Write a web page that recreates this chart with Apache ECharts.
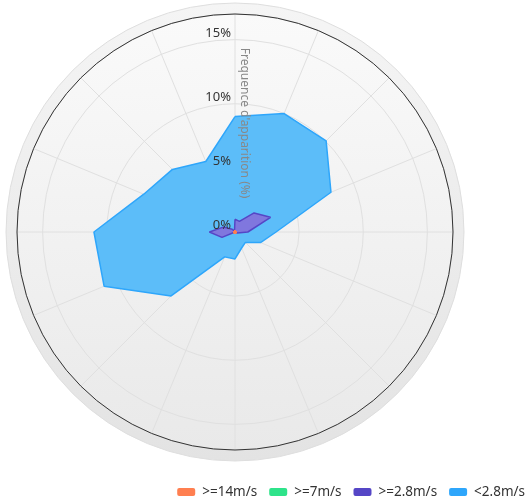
<!DOCTYPE html>
<html>
<head>
<meta charset="utf-8">
<script src="https://cdn.jsdelivr.net/npm/echarts@6/dist/echarts.min.js"></script>
<style>
  html, body { margin: 0; padding: 0; background: #fff; }
  #chart { width: 526px; height: 501px; }
</style>
</head>
<body>
<div id="chart"></div>
<script>
// 16 wind directions, clockwise from north
const directions = ['N', 'NNE', 'NE', 'ENE', 'E', 'ESE', 'SE', 'SSE', 'S', 'SSW', 'SW', 'WSW', 'W', 'WNW', 'NW', 'NNW']
const radiusTicks = [0, 5, 10, 15]

// frequency (%) per direction for each speed class (stacked)
const over14 = [0, 0, 0, 0, 0, 0, 0, 0, 0, 0, 0, 0, 0, 0, 0, 0]
const over7 = [0, 0, 0, 0, 0, 0, 0, 0, 0, 0, 0, 0, 0, 0, 0, 0]
const over28 = [1.0, 0.9, 2.1, 3.0, 1.0, 0.2, 0.1, 0, 0, 0, 0, 1.1, 2.0, 1.0, 0.3, 0.1]
const under28 = [8.0, 9.1, 7.95, 5.1, 2.2, 1.95, 1.05, 1.35, 2.1, 2.1, 7.05, 9.95, 9.0, 6.7, 6.6, 5.85]

const cx = 235
const cy = 232
const R = 218

const step = 360 / directions.length
function toPolar(values) {
  const pts = values.map((v, i) => [v, i * step])
  pts.push([values[0], 360]) // close the ring
  return pts
}

const series = [
  { name: '>=14m/s', values: over14, line: '#ff7f50', fill: '#ff7f50', dot: true },
  { name: '>=7m/s', values: over7, line: '#2ee38a', fill: '#2ee38a' },
  { name: '>=2.8m/s', values: over28, line: '#5546c6', fill: '#8077de' },
  { name: '<2.8m/s', values: under28, line: '#2ea6fb', fill: '#5cbdf9' }
].map(s => ({
  name: s.name,
  type: 'line',
  coordinateSystem: 'polar',
  polarIndex: 0,
  stack: 'wind',
  symbol: s.dot ? 'circle' : 'none',
  symbolSize: 3,
  data: toPolar(s.values),
  itemStyle: { color: s.line },
  lineStyle: { color: s.line, width: 1.5 },
  areaStyle: { color: s.fill, opacity: 1 }
}))

const chart = echarts.init(document.getElementById('chart'))
chart.setOption({
  animation: false,
  textStyle: { fontFamily: 'Noto Sans' },
  graphic: [
    {
      type: 'circle', z: -10, silent: true,
      shape: { cx: cx, cy: cy, r: R + 11 },
      style: {
        fill: { type: 'linear', x: 0, y: 0, x2: 0, y2: 1,
          colorStops: [{ offset: 0, color: '#f5f5f5' }, { offset: 1, color: '#e3e3e3' }] },
        stroke: '#dedede', lineWidth: 1
      }
    },
    {
      type: 'circle', z: -9, silent: true,
      shape: { cx: cx, cy: cy, r: R },
      style: {
        fill: { type: 'linear', x: 0, y: 0, x2: 0, y2: 1,
          colorStops: [{ offset: 0, color: '#fafafa' }, { offset: 1, color: '#e9e9e9' }] }
      }
    }
  ],
  legend: {
    right: 1,
    bottom: 2,
    padding: 0,
    icon: 'roundRect',
    itemWidth: 18,
    itemHeight: 8,
    itemGap: 12,
    textStyle: { fontSize: 13.5, color: '#333', padding: [0, 0, 0, 2] },
    data: series.map(s => s.name)
  },
  polar: [
    { center: [cx, cy], radius: R },
    { center: [cx, cy], radius: R }
  ],
  angleAxis: [
    {
      polarIndex: 0,
      type: 'value',
      min: 0,
      max: 360,
      interval: step,
      startAngle: 90,
      clockwise: true,
      axisLine: { lineStyle: { color: '#333', width: 1 } },
      axisTick: { show: false },
      axisLabel: { show: false },
      splitLine: { lineStyle: { color: '#e0e0e0' } }
    },
    {
      polarIndex: 1,
      type: 'value',
      min: 0,
      max: 360,
      startAngle: 90,
      show: false
    }
  ],
  radiusAxis: [
    {
      polarIndex: 0,
      min: 0,
      max: 17,
      interval: 5,
      axisLine: { show: false },
      axisTick: { show: false },
      axisLabel: { show: false },
      splitLine: { lineStyle: { color: '#e0e0e0' } }
    },
    {
      polarIndex: 1,
      z: 10,
      min: 0,
      max: 17,
      interval: 5,
      name: "Frequence d'apparition (%)",
      nameLocation: 'middle',
      nameRotate: -90,
      nameGap: 3,
      nameTextStyle: { color: '#888', fontSize: 12 },
      axisLine: { show: false },
      axisTick: { show: false },
      splitLine: { show: false },
      axisLabel: {
        showMaxLabel: false,
        color: '#333',
        fontSize: 13,
        margin: 4,
        verticalAlign: 'bottom',
        padding: [0, 0, 0, 0],
        formatter: v => (radiusTicks.includes(v) ? v + '%' : '')
      }
    }
  ],
  series: series
})
</script>
</body>
</html>
